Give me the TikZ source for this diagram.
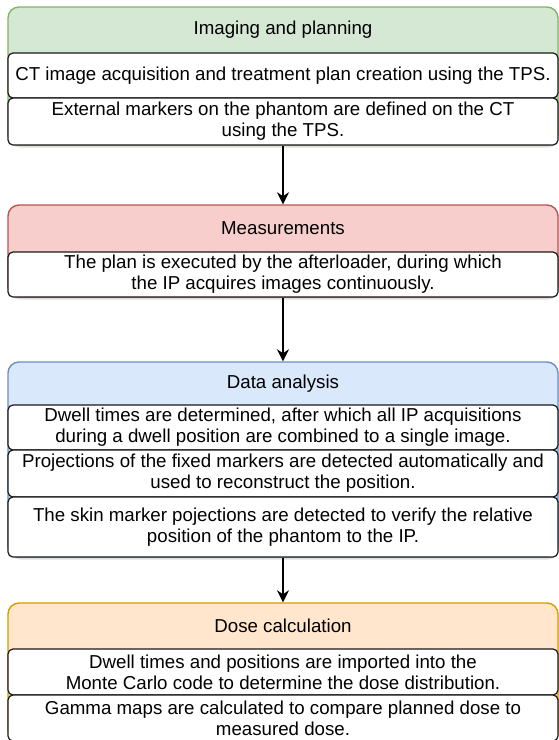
\documentclass[tikz,border=0pt]{standalone}
\usepackage{fontspec}
\setmainfont{Liberation Sans}
\usetikzlibrary{arrows.meta,shadows}

\definecolor{imgfill}{HTML}{D5E8D4}
\definecolor{imgline}{HTML}{82B366}
\definecolor{measfill}{HTML}{F8CECC}
\definecolor{measline}{HTML}{B85450}
\definecolor{datafill}{HTML}{DAE8FC}
\definecolor{dataline}{HTML}{6C8EBF}
\definecolor{dosefill}{HTML}{FFE6CC}
\definecolor{doseline}{HTML}{D79B00}

\tikzset{
	stage/.style={rounded corners=11pt, line width=1.4pt, minimum width=550pt, inner sep=0pt,
		drop shadow={shadow xshift=1pt, shadow yshift=-2.5pt, opacity=0.25}},
	title/.style={inner sep=0pt},
	task/.style={draw=black!90, fill=white, rounded corners=5pt, line width=1.2pt,
		minimum width=550pt, inner sep=0pt, align=center},
	flow/.style={line width=1.6pt, -{Stealth[length=12pt,width=12pt]}}
}

\begin{document}
\begin{tikzpicture}[x=1pt, y=-1pt, font=\fontsize{18.7}{21}\selectfont]
				\useasboundingbox (0,0) rectangle (559,740);

				% imaging and planning
				\node[stage, draw=imgline, fill=imgfill, minimum height=138pt] (imaging) at (283,76) {};
				\node[title] (imagingT) at (283,30) {Imaging and planning};
				\node[task, minimum height=45pt] (ctPlan) at (283,75.5) {CT image acquisition and treatment plan creation using the TPS.};
				\node[task, minimum height=47pt] (extMark) at (283,121.5) {External markers on the phantom are defined on the CT\\using the TPS.};

				% measurements
				\node[stage, draw=measline, fill=measfill, minimum height=92pt] (measure) at (283,251) {};
				\node[title] (measureT) at (283,228) {Measurements};
				\node[task, minimum height=45pt] (execPlan) at (283,274.5) {The plan is executed by the afterloader, during which\\the IP acquires images continuously.};

				% data analysis
				\node[stage, draw=dataline, fill=datafill, minimum height=195pt] (analysis) at (283,459.5) {};
				\node[title] (analysisT) at (283,383.5) {Data analysis};
				\node[task, minimum height=45pt] (dwell) at (283,427.5) {Dwell times are determined, after which all IP acquisitions\\during a dwell position are combined to a single image.};
				\node[task, minimum height=47pt] (fixMark) at (283,473.5) {Projections of the fixed markers are detected automatically and\\used to reconstruct the position.};
				\node[task, minimum height=60pt] (skinMark) at (283,527) {The skin marker pojections are detected to verify the relative\\position of the phantom to the IP.};

				% dose calculation
				\node[stage, draw=doseline, fill=dosefill, minimum height=138pt] (dose) at (283,672) {};
				\node[title] (doseT) at (283,626) {Dose calculation};
				\node[task, minimum height=46pt] (monteCarlo) at (283,672) {Dwell times and positions are imported into the\\Monte Carlo code to determine the dose distribution.};
				\node[task, minimum height=46pt] (gamma) at (283,718) {Gamma maps are calculated to compare planned dose to\\measured dose.};

				\draw[flow] (imaging.south) -- (measure.north);
				\draw[flow] (measure.south) -- (analysis.north);
				\draw[flow] (analysis.south) -- (dose.north);
			\end{tikzpicture}
\end{document}
